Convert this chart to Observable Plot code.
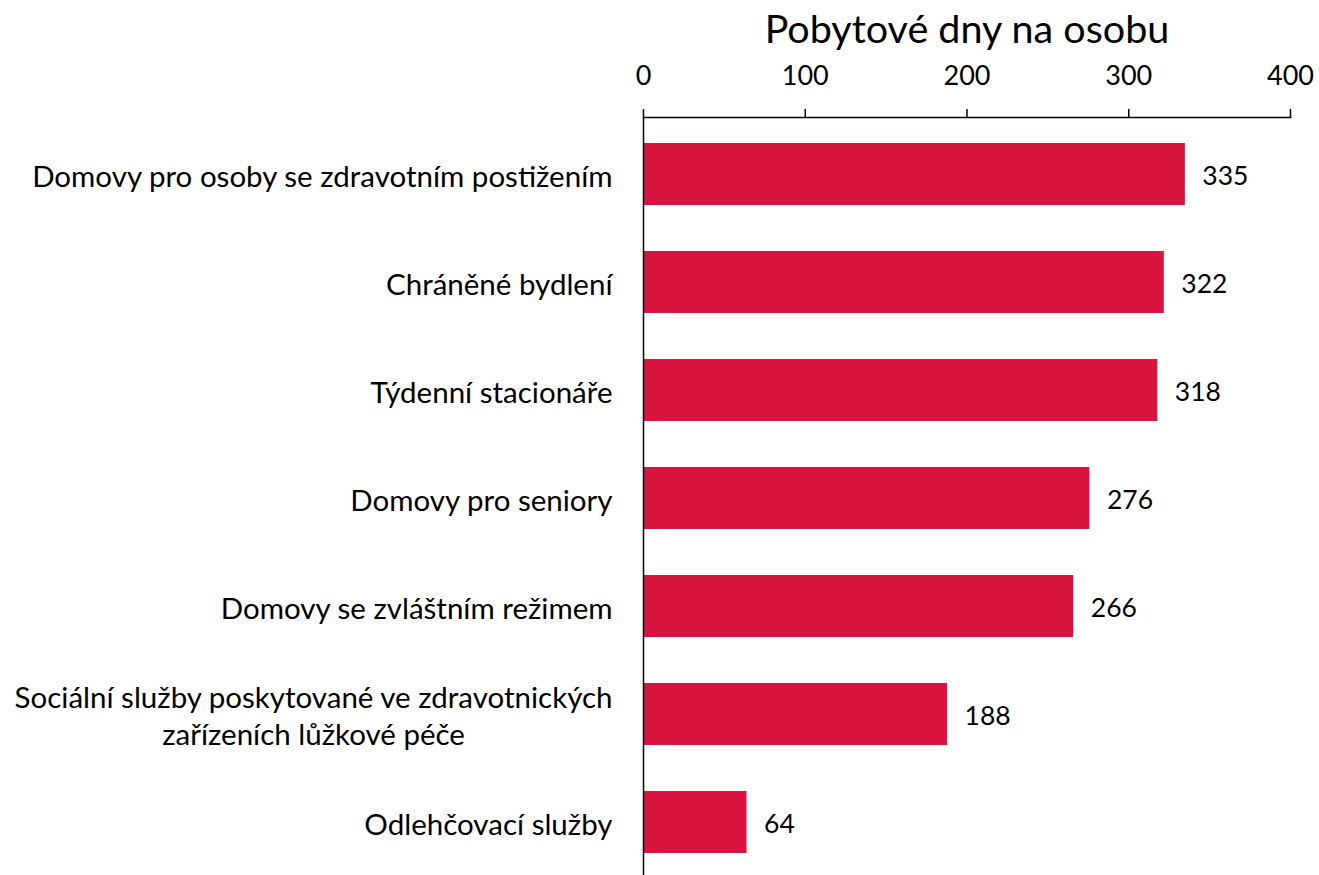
<!DOCTYPE html>
<html>
<head>
<meta charset="utf-8">
<script src="https://cdn.jsdelivr.net/npm/d3@7"></script>
<script src="https://cdn.jsdelivr.net/npm/@observablehq/plot@0.6"></script>
<style>
  html, body { margin: 0; padding: 0; background: #fff; overflow: hidden; }
</style>
</head>
<body>
<div id="chart"></div>
<script>
const title = "Pobytové dny na osobu";
const categories = [
  "Domovy pro osoby se zdravotním postižením",
  "Chráněné bydlení",
  "Týdenní stacionáře",
  "Domovy pro seniory",
  "Domovy se zvláštním režimem",
  "Sociální služby poskytované ve zdravotnických\nzařízeních lůžkové péče",
  "Odlehčovací služby"
];
const values = [335, 322, 318, 276, 266, 188, 64];
const xTicks = [0, 100, 200, 300, 400];

const data = categories.map((c, i) => ({category: c, value: values[i]}));

const chart = Plot.plot({
  width: 1319,
  height: 879,
  marginTop: 117,
  marginLeft: 643,
  marginRight: 29,
  marginBottom: 0,
  style: {fontFamily: "Lato, 'Open Sans', sans-serif", fontSize: "26px", color: "#000", background: "#fff"},
  x: {domain: [0, 400], label: null},
  y: {domain: categories, paddingInner: 0.43, paddingOuter: 0.22, label: null},
  marks: [
    Plot.barX(data, {x: "value", y: "category", fill: "#d81541"}),
    Plot.text(data, {x: "value", y: "category", text: d => String(d.value), textAnchor: "start", dx: 17, dy: 2, fontSize: 26.5, fill: "#000"}),
    Plot.frame({anchor: "top", stroke: "#000", strokeWidth: 1.5}),
    Plot.ruleX([0], {stroke: "#000", strokeWidth: 1.5}),
    Plot.axisX({anchor: "top", ticks: xTicks, tickSize: 9, tickPadding: 24, fontSize: 27, strokeWidth: 1.5, label: null}),
    Plot.axisY({anchor: "left", tickSize: 0, tickPadding: 31, fontSize: 29.5, lineHeight: 1.27, label: null}),
    Plot.text([title], {frameAnchor: "top", dy: -103, text: d => d, fontSize: 39.5, fill: "#000"})
  ]
});

document.getElementById("chart").append(chart);

// center multi-line y labels within their block
chart.querySelectorAll('g[aria-label="y-axis tick label"] text').forEach(t => {
  const spans = t.querySelectorAll("tspan");
  if (spans.length > 1) {
    const bb = t.getBBox();
    t.setAttribute("text-anchor", "middle");
    spans.forEach(s => s.setAttribute("x", bb.x + bb.width / 2));
  }
});
</script>
</body>
</html>
